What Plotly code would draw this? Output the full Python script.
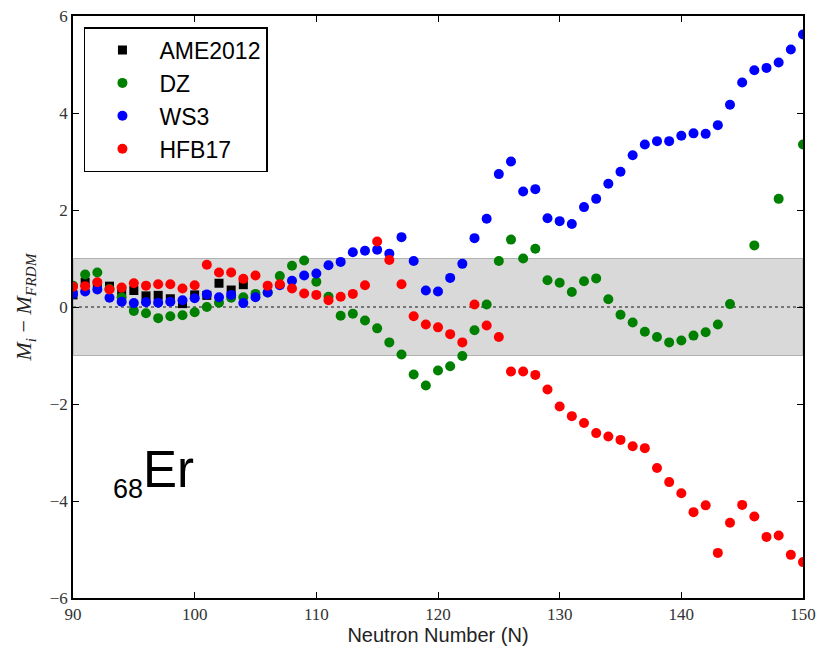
import plotly.graph_objects as go

N = list(range(90, 151))
N_ame = list(range(90, 105))

ame2012 = [0.25, 0.51, 0.47, 0.43, 0.33, 0.34, 0.23, 0.24, 0.17, 0.07, 0.25, 0.24, 0.49, 0.35, 0.46]

dz = [0.44, 0.67, 0.71, 0.37, 0.20, -0.08, -0.13, -0.23, -0.19, -0.17,
      -0.11, 0.00, 0.09, 0.19, 0.20, 0.27, 0.30, 0.64, 0.85, 0.96,
      0.52, 0.21, -0.18, -0.14, -0.28, -0.44, -0.73, -0.98, -1.39, -1.62,
      -1.31, -1.22, -1.01, -0.48, 0.05, 0.95, 1.39, 1.00, 1.20, 0.55,
      0.50, 0.31, 0.53, 0.59, 0.16, -0.16, -0.32, -0.51, -0.62, -0.73,
      -0.69, -0.59, -0.52, -0.36, 0.06, None, 1.27, None, 2.23, None,
      3.35]

ws3 = [0.27, 0.32, 0.36, 0.19, 0.11, 0.08, 0.10, 0.09, 0.11, 0.14,
       0.18, 0.26, 0.20, 0.25, 0.08, 0.20, 0.30, 0.45, 0.54, 0.65,
       0.69, 0.86, 0.93, 1.13, 1.16, 1.18, 1.10, 1.44, 0.95, 0.34,
       0.32, 0.60, 0.89, 1.42, 1.82, 2.74, 3.00, 2.38, 2.43, 1.83,
       1.77, 1.71, 2.06, 2.23, 2.54, 2.79, 3.13, 3.35, 3.42, 3.42,
       3.53, 3.58, 3.57, 3.75, 4.17, 4.63, 4.88, 4.93, 5.04, 5.31,
       5.62]

hfb17 = [0.42, 0.43, 0.51, 0.36, 0.40, 0.49, 0.44, 0.47, 0.47, 0.38,
         0.45, 0.87, 0.71, 0.71, 0.58, 0.65, 0.44, 0.47, 0.38, 0.28,
         0.25, 0.14, 0.21, 0.27, 0.45, 1.35, 0.97, 0.47, -0.19, -0.36,
         -0.42, -0.56, -0.73, 0.05, -0.38, -0.62, -1.33, -1.33, -1.40, -1.70,
         -2.05, -2.25, -2.39, -2.60, -2.67, -2.74, -2.87, -2.91, -3.32, -3.61,
         -3.84, -4.23, -4.09, -5.07, -4.45, -4.08, -4.32, -4.74, -4.71, -5.11,
         -5.26]

x_ticks = [90, 100, 110, 120, 130, 140, 150]
y_ticks = [-6, -4, -2, 0, 2, 4, 6]

fig = go.Figure()

series = [
    ("AME2012", N_ame, ame2012, "black", "square"),
    ("DZ", N, dz, "#008000", "circle"),
    ("WS3", N, ws3, "#0000ff", "circle"),
    ("HFB17", N, hfb17, "#ff0000", "circle"),
]
for i, (name, xs, ys, col, sym) in enumerate(series):
    fig.add_trace(go.Scatter(
        x=xs, y=ys, mode="markers", name=name, legendgroup=name,
        marker=dict(color=col, symbol=sym, size=10 if sym == "circle" else 9,
                    line=dict(width=0)),
    ))

# grey band and zero line
fig.add_shape(type="rect", xref="x", yref="y", x0=90, x1=150, y0=-1, y1=1,
              fillcolor="#d9d9d9", line=dict(color="#b0b0b0", width=1.2), layer="below")
fig.add_shape(type="line", xref="x", yref="y", x0=90, x1=150, y0=0, y1=0,
              line=dict(color="#555555", width=1.5, dash="dot"), layer="below")

axis_common = dict(
    showline=True, linecolor="black", linewidth=1.5, mirror="ticks",
    ticks="inside", ticklen=6, tickwidth=1, tickcolor="black",
    showgrid=False, zeroline=False, automargin=False, ticklabeloverflow="allow",
    tickfont=dict(family="Liberation Serif, DejaVu Serif, serif", size=17, color="#333333"),
)

fig.update_xaxes(range=[90, 150], tickvals=x_ticks, ticktext=[str(v) for v in x_ticks],
                 title=dict(text="Neutron Number (N)",
                            font=dict(family="Liberation Sans, Arial, sans-serif", size=20, color="#222222"),
                            standoff=5),
                 **axis_common)
fig.update_yaxes(range=[-6, 6], tickvals=y_ticks,
                 ticktext=[("\u2212" + str(-v)) if v < 0 else str(v) for v in y_ticks],
                 title=dict(text="<i>M<sub>i</sub></i> \u2212 <i>M<sub>FRDM</sub></i>",
                            font=dict(family="Liberation Serif, DejaVu Serif, serif", size=22, color="#222222"),
                            standoff=12),
                 **axis_common)

fig.add_annotation(xref="x", yref="y", x=93.1, y=-3.42, xanchor="left", yanchor="middle",
                   text="<sub><span style='font-size:27px'>68</span></sub>Er", showarrow=False,
                   font=dict(family="Liberation Sans, Arial, sans-serif", size=51, color="black"))

fig.update_layout(
    width=819, height=654,
    margin=dict(l=73, r=16, t=16, b=56),
    plot_bgcolor="white", paper_bgcolor="white",
    legend=dict(x=0.015, y=0.981, xanchor="left", yanchor="top",
                bgcolor="white", bordercolor="black", borderwidth=1.5,
                font=dict(family="Liberation Sans, Arial, sans-serif", size=23, color="black"),
                itemwidth=64, tracegroupgap=8, traceorder="normal"),
    showlegend=True,
)

fig.write_html("out.html", config={"displayModeBar": False},
               post_script="document.body.style.margin='0';document.body.style.overflow='hidden';")
